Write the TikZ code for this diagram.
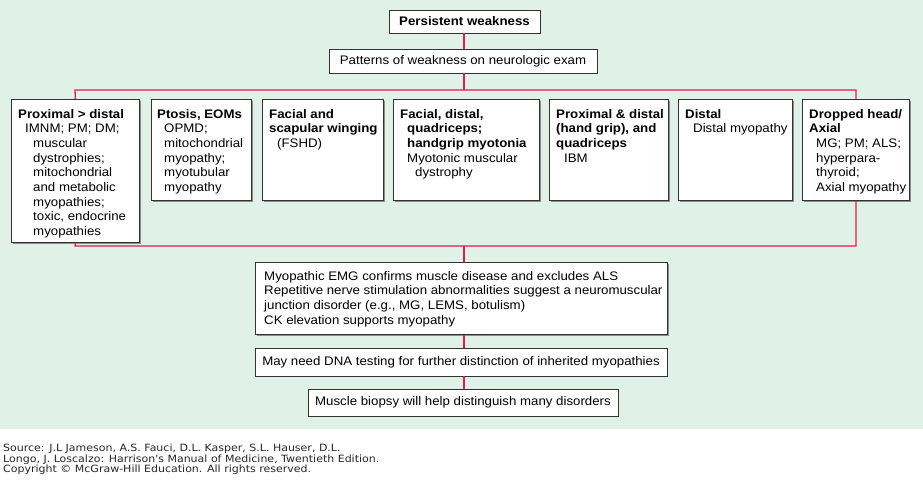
\documentclass[tikz,border=0pt]{standalone}
\usepackage{fontspec}
\setmainfont[FakeStretch=1.07]{Liberation Sans}
\newfontfamily\srcfont[FakeStretch=1.1]{DejaVu Sans}
\usetikzlibrary{shadows}
\definecolor{bg}{HTML}{E0F1E7}
\definecolor{linkred}{HTML}{E8194F}
\begin{document}
\begin{tikzpicture}[x=1pt,y=-1pt,
  box/.style={draw=black!80, line width=0.8pt, fill=white, inner sep=0pt,
    drop shadow={shadow xshift=1.3pt, shadow yshift=-1.3pt, fill=black!45, opacity=1}},
  cbox/.style={box, font=\fontsize{12.4}{14.6}\selectfont},
  gbox/.style={box, anchor=north west},
  txt/.style={font=\fontsize{12.4}{14.65}\selectfont, inner sep=0pt, align=left, anchor=north west},
  link/.style={draw=linkred, line width=1.3pt}]
\useasboundingbox (0,0) rectangle (923,480);
\fill[bg] (0,0) rectangle (923,429);
\coordinate (cx) at (464,0);
\coordinate (tl) at (75,90);
\coordinate (bl) at (75,246);
% top boxes
\node[cbox, minimum width=151pt, minimum height=23pt] (pw) at (464.5,21.5) {\textbf{Persistent weakness}};
\node[cbox, minimum width=268pt, minimum height=24pt] (pat) at (463,61) {Patterns of weakness on neurologic exam};
% pattern boxes
\node[gbox, minimum width=128pt, minimum height=143pt] (b1) at (11,99) {};
\node[gbox, minimum width=100pt, minimum height=101pt] (b2) at (151,99) {};
\node[gbox, minimum width=121pt, minimum height=101pt] (b3) at (262,99) {};
\node[gbox, minimum width=146pt, minimum height=101pt] (b4) at (393,99) {};
\node[gbox, minimum width=119pt, minimum height=101pt] (b5) at (549,99) {};
\node[gbox, minimum width=114pt, minimum height=101pt] (b6) at (678,99) {};
\node[gbox, minimum width=107pt, minimum height=101pt] (b7) at (802,99) {};
\node[txt] (t1) at (18,109) {\textbf{Proximal > distal}\\\hspace*{7pt}IMNM; PM; DM;\\\hspace*{15pt}muscular\\\hspace*{15pt}dystrophies;\\\hspace*{15pt}mitochondrial\\\hspace*{15pt}and metabolic\\\hspace*{15pt}myopathies;\\\hspace*{15pt}toxic, endocrine\\\hspace*{15pt}myopathies};
\node[txt] (t2) at (157,109) {\textbf{Ptosis, EOMs}\\\hspace*{7pt}OPMD;\\\hspace*{7pt}mitochondrial\\\hspace*{7pt}myopathy;\\\hspace*{7pt}myotubular\\\hspace*{7pt}myopathy};
\node[txt] (t3) at (269,109) {\textbf{Facial and}\\\textbf{scapular winging}\\\hspace*{8pt}(FSHD)};
\node[txt] (t4) at (400,109) {\textbf{Facial, distal,}\\\hspace*{7pt}\textbf{quadriceps;}\\\hspace*{7pt}\textbf{handgrip myotonia}\\\hspace*{7pt}Myotonic muscular\\\hspace*{15pt}dystrophy};
\node[txt] (t5) at (556,109) {\textbf{Proximal \& distal}\\\textbf{(hand grip), and}\\\textbf{quadriceps}\\\hspace*{8pt}IBM};
\node[txt] (t6) at (685,109) {\textbf{Distal}\\\hspace*{8pt}Distal myopathy};
\node[txt] (t7) at (809,109) {\textbf{Dropped head/}\\\textbf{Axial}\\\hspace*{7pt}MG; PM; ALS;\\\hspace*{7pt}hyperpara-\\\hspace*{7pt}thyroid;\\\hspace*{7pt}Axial myopathy};
% lower boxes
\node[gbox, minimum width=412pt, minimum height=72pt] (emg) at (255,262) {};
\node[txt] (temg) at (264,271) {Myopathic EMG confirms muscle disease and excludes ALS\\Repetitive nerve stimulation abnormalities suggest a neuromuscular\\junction disorder (e.g., MG, LEMS, botulism)\\CK elevation supports myopathy};
\node[cbox, minimum width=412pt, minimum height=28pt] (dna) at (461,362) {May need DNA testing for further distinction of inherited myopathies};
\node[cbox, minimum width=310pt, minimum height=27pt] (bio) at (463,402.5) {Muscle biopsy will help distinguish many disorders};
% connectors
\draw[link] (pw.south -| cx) -- (pat.north -| cx);
\draw[link] (pat.south -| cx) -- (tl -| cx);
\draw[link] (b1.north) -- (tl) -| (b7.north);
\draw[link] (b1.south) -- (bl) -| (b7.south);
\draw[link] (emg.north -| cx) -- (bl -| cx);
\draw[link] (emg.south -| cx) -- (dna.north -| cx);
\draw[link] (dna.south -| cx) -- (bio.north -| cx);
% source
\node[inner sep=0pt, anchor=north west, align=left, text=black!85, font=\srcfont\fontsize{10}{10.4}\selectfont] (src) at (3,444) {Source: J.L Jameson, A.S. Fauci, D.L. Kasper, S.L. Hauser, D.L.\\Longo, J. Loscalzo: Harrison's Manual of Medicine, Twentieth Edition.\\Copyright © McGraw-Hill Education. All rights reserved.};
\end{tikzpicture}
\end{document}
